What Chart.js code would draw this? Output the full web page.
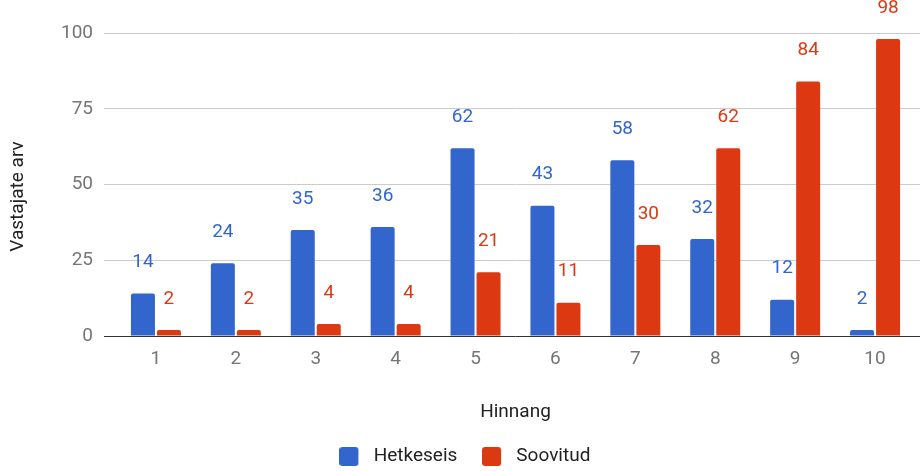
<!DOCTYPE html>
<html>
<head>
<meta charset="utf-8">
<script src="https://cdn.jsdelivr.net/npm/chart.js@4.4.0/dist/chart.umd.min.js"></script>
<style>
  html, body { margin: 0; padding: 0; background: #fff; }
  #wrap { width: 920px; height: 471px; position: relative; }
</style>
</head>
<body>
<div id="wrap"><canvas id="c" width="920" height="471"></canvas></div>
<script>
const categories = ['1', '2', '3', '4', '5', '6', '7', '8', '9', '10'];
const hetkeseis = [14, 24, 35, 36, 62, 43, 58, 32, 12, 2];
const soovitud = [2, 2, 4, 4, 21, 11, 30, 62, 84, 98];
const seriesNames = ['Hetkeseis', 'Soovitud'];
const yTicks = [0, 25, 50, 75, 100];
const xTitle = 'Hinnang';
const yTitle = 'Vastajate arv';

const BLUE = '#3366cc';
const RED = '#dc3912';
const FONT = 'Roboto';
const FS = 19;

function swatch(color) {
  const cv = document.createElement('canvas');
  cv.width = 25; cv.height = 19;
  const g = cv.getContext('2d');
  g.fillStyle = color;
  g.beginPath();
  g.roundRect(0, 0, 19, 19, 3);
  g.fill();
  return cv;
}

const gridColor = (ctx) => (ctx.tick && ctx.tick.value === 0) ? '#333333' : '#cccccc';

const dataLabels = {
  id: 'dataLabels',
  afterDatasetsDraw(chart) {
    const ctx = chart.ctx;
    ctx.save();
    ctx.font = FS + 'px ' + FONT;
    ctx.textAlign = 'center';
    ctx.textBaseline = 'middle';
    chart.data.datasets.forEach((ds, di) => {
      const meta = chart.getDatasetMeta(di);
      ctx.fillStyle = ds.backgroundColor;
      meta.data.forEach((el, i) => {
        ctx.fillText(String(ds.data[i]), el.x, el.y - 31);
      });
    });
    ctx.restore();
  }
};

// y-axis title, drawn beside the y scale (centred a little below the scale's middle, as in the source)
const yAxisTitle = {
  id: 'yAxisTitle',
  afterDraw(chart) {
    const ctx = chart.ctx;
    const ys = chart.scales.y;
    ctx.save();
    ctx.font = FS + 'px ' + FONT;
    ctx.fillStyle = '#222222';
    ctx.textAlign = 'center';
    ctx.textBaseline = 'middle';
    ctx.translate(18, (ys.top + ys.bottom) / 2 + 12);
    ctx.rotate(-Math.PI / 2);
    ctx.fillText(yTitle, 0, 0);
    ctx.restore();
  }
};

new Chart(document.getElementById('c'), {
  type: 'bar',
  data: {
    labels: categories,
    datasets: [
      { label: seriesNames[0], data: hetkeseis, backgroundColor: BLUE },
      { label: seriesNames[1], data: soovitud, backgroundColor: RED }
    ]
  },
  options: {
    responsive: false,
    animation: false,
    devicePixelRatio: 1,
    layout: { padding: { top: 33, left: 10, right: 0, bottom: 0 } },
    datasets: {
      bar: {
        categoryPercentage: 0.651,
        barPercentage: 0.923,
        borderRadius: 2,
        borderSkipped: 'start'
      }
    },
    scales: {
      x: {
        grid: { display: false, drawTicks: false },
        border: { display: false },
        ticks: { color: '#757575', font: { family: FONT, size: FS }, padding: 12 },
        title: { display: true, text: xTitle, color: '#222222', font: { family: FONT, size: FS }, padding: { top: 0, bottom: -2 } },
        afterFit(scale) { scale.height = 86; }
      },
      y: {
        min: 0, max: 100,
        afterBuildTicks(scale) { scale.ticks = yTicks.map(v => ({ value: v })); },
        grid: { color: gridColor, lineWidth: 1, drawTicks: true, tickLength: 12 },
        border: { display: false },
        ticks: { color: '#757575', font: { family: FONT, size: FS }, padding: 11 },
        title: { display: false },
        afterFit(scale) { scale.width = 106; }
      },
      y2: {
        position: 'right',
        min: 0, max: 100,
        afterBuildTicks(scale) { scale.ticks = yTicks.map(v => ({ value: v })); },
        grid: { color: gridColor, lineWidth: 1, drawOnChartArea: false, drawTicks: true, tickLength: 5 },
        border: { display: false },
        ticks: { display: false },
        afterFit(scale) { scale.width = 5; }
      }
    },
    plugins: {
      legend: {
        position: 'bottom',
        maxHeight: 49,
        labels: {
          usePointStyle: true,
          pointStyleWidth: 24.5,
          padding: 25,
          color: '#222222',
          font: { family: FONT, size: FS },
          generateLabels(chart) {
            return chart.data.datasets.map((ds, i) => ({
              text: ds.label,
              fillStyle: ds.backgroundColor,
              strokeStyle: ds.backgroundColor,
              lineWidth: 0,
              pointStyle: swatch(ds.backgroundColor),
              hidden: !chart.isDatasetVisible(i),
              datasetIndex: i,
              fontColor: '#222222'
            }));
          }
        }
      },
      tooltip: { enabled: false }
    }
  },
  plugins: [dataLabels, yAxisTitle]
});
</script>
</body>
</html>
